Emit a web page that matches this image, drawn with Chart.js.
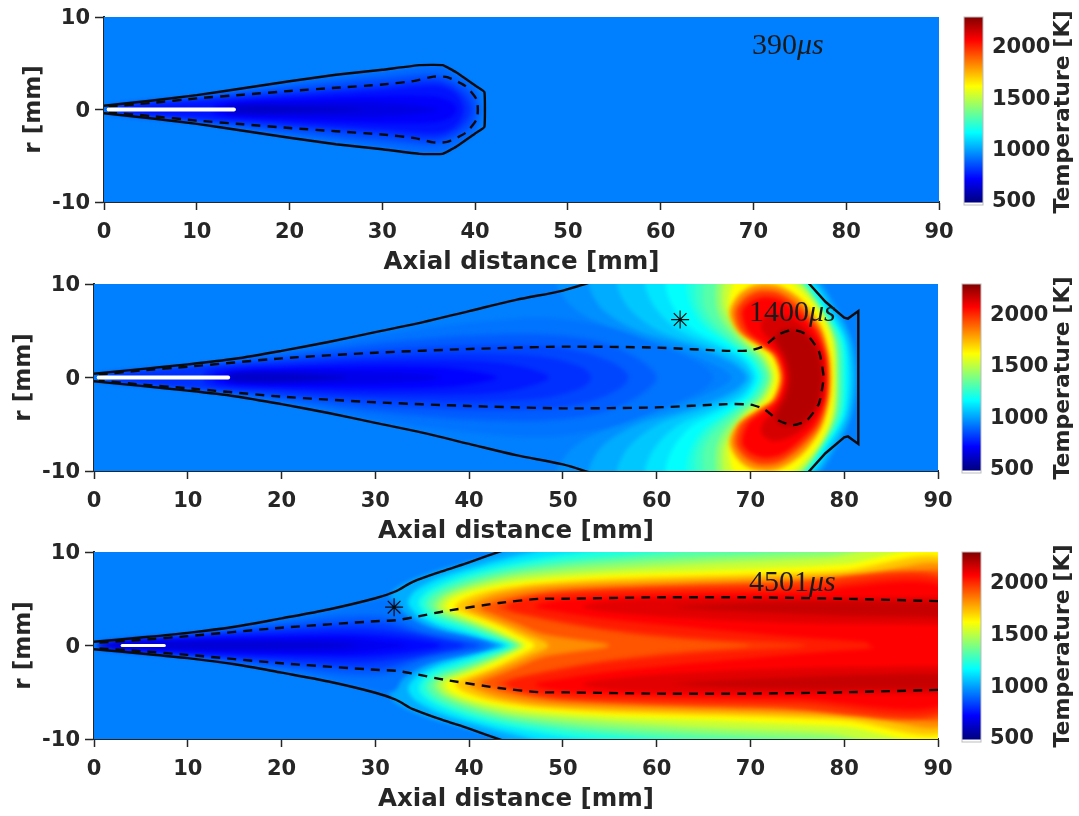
<!DOCTYPE html>
<html>
<head>
<meta charset="utf-8">
<style>
  html, body { margin: 0; background: #fff; }
  #page { position: relative; width: 1079px; height: 816px; overflow: hidden; }
  canvas { position: absolute; filter: blur(0.4px); }
  .stamp { position: absolute; font: 30px "Liberation Serif", serif; color: #1a1a1a; line-height: 1; }
</style>
</head>
<body>
<div id="page"></div>
<script src="https://cdn.jsdelivr.net/npm/chart.js@4"></script>
<script>
// Axis ticks
const xTicks = [0, 10, 20, 30, 40, 50, 60, 70, 80, 90];
const rTicks = [-10, 0, 10];
const barTicks = [500, 1000, 1500, 2000];
const barRange = [470, 2275];
const ambientT = 921;

// All outlines are upper half [axial mm, r mm], mirrored about r = 0 when drawn

// 390 us
const p1Solid = [[0, 0.4], [5, 0.95], [10, 1.55], [15, 2.3], [20, 3.05], [25, 3.75], [30, 4.3], [34, 4.8], [36.5, 4.8], [38, 4.0], [40, 2.6], [41, 1.9]];
const p1Dash = [[0.5, 0.3], [5, 0.7], [10, 1.2], [15, 1.6], [20, 2], [25, 2.35], [30, 2.7], [33.5, 3.1], [35.5, 3.55], [37, 3.5], [39, 2.5], [40.2, 1]];
const p1Slit = [[0.5, 0], [14, 0]];
const p1ColdT = [880, 830, 780, 730, 690, 650, 600];
const p1Cold = [
  [[0.2, 0.35], [10, 1.45], [20, 2.9], [30, 4.1], [34, 4.6], [36.5, 4.6], [38, 3.8], [40, 2.4], [40.8, 0]],
  [[0.5, 0.3], [10, 1.3], [20, 2.4], [30, 3.4], [35.5, 3.8], [37.5, 3.2], [39.5, 1.9], [40.2, 0]],
  [[1, 0.3], [10, 1.1], [20, 1.9], [30, 2.7], [35.5, 3.2], [37.5, 2.6], [39, 1.4], [39.6, 0]],
  [[2, 0.25], [10, 0.85], [20, 1.5], [30, 2.2], [36, 2.6], [38, 1.7], [38.8, 0]],
  [[12, 0.5], [20, 1.1], [30, 1.5], [35.5, 1.4], [37.5, 0.8], [38, 0]],
  [[13, 0.35], [20, 0.7], [28, 0.8], [33, 0.5], [36, 0]],
  [[13.5, 0.25], [16, 0.45], [20, 0.35], [28, 0]]
];

// 1400 us
const p2SolidLeft = [[53, 10.2], [50, 9.3], [45, 8.3], [40, 7.1], [35, 5.9], [30, 4.85], [25, 3.8], [20, 2.85], [15, 2], [10, 1.4], [5, 0.9], [0, 0.4]];
const p2SolidRight = [[76.2, 10.1], [78, 8.1], [80, 6.4], [80.4, 6.3], [81.5, 7.1]];
const p2Dash = [[0.5, 0.3], [5, 0.75], [10, 1.15], [20, 2.05], [30, 2.65], [40, 3.05], [50, 3.3], [60, 3.2], [67.5, 2.85], [70, 2.9], [71.5, 3.4], [73, 4.6], [74.5, 5.1], [76, 4.6], [77.3, 2.8], [77.8, 0.2]];
const p2Slit = [[0.5, 0], [14.3, 0]];
const p2Star = [[62.5, 6.2]];
const p2ColdT = [900, 860, 820, 780, 740, 700, 660, 600];
const p2Cold = [
  [[0.2, 0.35], [10, 1.25], [20, 2.7], [30, 4.5], [40, 5.8], [48, 6.3], [55, 5.3], [60, 3.5], [64.5, 1.5], [66, 0]],
  [[0.5, 0.3], [10, 1.2], [20, 2.4], [30, 3.7], [40, 4.5], [48, 4.6], [54, 3.8], [58, 2], [60, 0]],
  [[1, 0.3], [10, 1.1], [20, 2], [30, 3], [40, 3.5], [48, 3.4], [53, 2.5], [56, 1.2], [57, 0]],
  [[2, 0.3], [10, 1], [20, 1.7], [30, 2.3], [40, 2.6], [48, 2.2], [52, 1.1], [53, 0]],
  [[12, 0.7], [20, 1.3], [30, 1.8], [40, 1.8], [45, 1.3], [48.5, 0]],
  [[13, 0.5], [20, 1], [30, 1.2], [38, 1], [43, 0]],
  [[14, 0.4], [20, 0.7], [28, 0.7], [35, 0.4], [37, 0]],
  [[14.5, 0.3], [17, 0.5], [22, 0.4], [27, 0]]
];
const p2HotT = [950, 1000, 1050, 1100, 1150, 1200, 1250, 1300, 1400, 1500, 1600, 1800, 1950, 2050, 2120, 2180];
const p2Hot = [
  [[68, 0], [66.5, 1.2], [62, 3], [56, 4.9], [51, 7.5], [49.5, 10.5], [76.8, 10.5], [79.3, 7.5], [80.9, 4], [81.4, 0]],
  [[69.5, 0], [68, 1.5], [64, 3.2], [58, 5], [54, 7.5], [53, 10.5], [76.4, 10.5], [79.1, 7.2], [80.7, 4], [81.2, 0]],
  [[69.9, 0], [68.5, 1.7], [65, 3.3], [60, 5.1], [56.8, 7.7], [56, 10.5], [76.1, 10.5], [78.9, 7], [80.4, 4], [80.9, 0]],
  [[70.3, 0], [69, 2], [66, 3.5], [62, 5.3], [59.5, 8], [59, 10.5], [75.8, 10.5], [78.5, 7], [80.1, 4], [80.6, 0]],
  [[70.6, 0], [69.5, 2], [67, 3.5], [63.5, 5.4], [61.5, 8], [61.2, 10.5], [75.5, 10.5], [78.2, 7], [79.9, 4], [80.3, 0]],
  [[71, 0], [70, 2], [68, 3.5], [65, 5.5], [63.5, 8], [63.5, 10.5], [75.2, 10.5], [78, 7], [79.7, 4], [80, 0]],
  [[71.3, 0], [70.2, 2.1], [68.2, 3.6], [65.5, 5.7], [64.2, 8], [64.5, 10.5], [75, 10.5], [77.8, 7.1], [79.5, 4], [79.8, 0]],
  [[71.6, 0], [70.5, 2.2], [68.5, 3.7], [66, 6], [65, 8], [65.5, 10.5], [74.8, 10.5], [77.6, 7.2], [79.3, 4], [79.6, 0]],
  [[72, 0], [71, 2.2], [69, 3.8], [67, 6], [66.3, 8], [66.8, 10.7], [74.5, 10.7], [77.4, 7.2], [79, 4], [79.3, 0]],
  [[72.3, 0], [71.3, 2.3], [69.5, 3.8], [67.8, 6], [67, 8], [67.6, 10.7], [74.2, 10.7], [77.2, 7.5], [78.8, 4.2], [79.1, 0]],
  [[72.6, 0], [71.7, 2.4], [70, 3.8], [68.3, 5.8], [67.7, 8], [68.5, 10.5], [71, 10.9], [73.8, 10.5], [77, 7.5], [78.6, 4.2], [78.9, 0]],
  [[73.1, 0], [72.3, 2.4], [70.5, 3.6], [68.6, 5], [67.8, 7], [68.8, 8.9], [70.5, 9.9], [73, 9.8], [75.5, 8.2], [77.5, 5.5], [78.4, 2.5], [78.6, 0]],
  [[73.4, 0], [72.6, 2.4], [70.9, 3.6], [69, 5], [68.4, 7], [69.4, 8.5], [71, 9.3], [73, 9.1], [75.2, 7.6], [77.2, 5.3], [78.1, 2.5], [78.3, 0]],
  [[73.6, 0], [72.9, 2.4], [71.3, 3.7], [69.7, 5], [69.1, 7], [70, 8.1], [71.5, 8.6], [73.2, 8.3], [75, 7], [76.9, 5], [77.9, 2.5], [78.1, 0]],
  [[73.9, 0], [73.4, 2.2], [72.3, 3.8], [71.3, 4.9], [71.2, 6], [72.3, 6.8], [74, 6.5], [75.5, 5.6], [76.9, 4], [77.7, 2.2], [77.9, 0]],
  [[74.2, 0], [73.8, 2], [73, 3.5], [72.7, 4.4], [73.5, 5.2], [75.5, 4.8], [77, 3], [77.6, 0]]
];

// 4501 us
const p3Solid = [[43.7, 10.2], [40, 8.9], [37, 7.9], [34, 6.8], [32.2, 5.8], [30, 5.05], [25, 3.85], [20, 2.9], [15, 2], [10, 1.35], [5, 0.85], [0, 0.4]];
const p3Dash = [[90, 4.75], [80, 5], [70, 5.15], [60, 5.15], [50, 5], [47.5, 5], [43.2, 4.55], [37.3, 3.65], [34, 3], [32.2, 2.7], [30, 2.6], [20, 1.9], [10, 1], [5, 0.6], [0.5, 0.3]];
const p3Slit = [[3, 0], [7.5, 0]];
const p3Star = [[32, 4.1]];
const p3ColdT = [900, 860, 810, 760, 710, 670, 620];
const p3Cold = [
  [[0.2, 0.35], [10, 1.25], [20, 2.7], [25, 3.6], [30, 4.7], [32, 4.9], [33, 3.5], [36, 1.7], [40, 0.8], [42.3, 0]],
  [[0.5, 0.3], [10, 1.15], [20, 2.4], [27, 3.2], [31, 3.1], [35, 1.6], [39, 0.7], [41.7, 0]],
  [[1, 0.3], [10, 1.05], [20, 2], [27, 2.5], [31, 2.4], [35, 1.2], [38, 0.6], [41, 0]],
  [[1.5, 0.3], [10, 1], [20, 1.6], [28, 1.9], [33, 1.4], [37, 0.6], [39.5, 0]],
  [[2, 0.25], [10, 0.75], [20, 1.1], [28, 1.2], [33, 0.8], [37, 0]],
  [[3, 0.2], [10, 0.55], [20, 0.8], [27, 0.8], [31, 0.4], [33.5, 0]],
  [[0.5, 0.2], [10, 0.4], [18, 0.4], [25, 0.3], [28, 0]]
];
const p3HotT = [1000, 1100, 1200, 1300, 1400, 1500, 1600, 1700, 1800, 1900, 1950, 2000, 2050];
const p3Hot = [
  [[43, 0], [40, 0.8], [36, 1.8], [33, 3], [31.5, 4.5], [32, 6], [35, 7.5], [39, 8.7], [43, 9.8], [46, 10.7], [91, 10.7]],
  [[43.7, 0], [41, 0.9], [37.5, 1.8], [34.8, 3], [33.5, 4.5], [34.2, 5.8], [37, 7.3], [41, 8.5], [46, 9.8], [50, 10.7], [91, 10.7]],
  [[44.2, 0], [41.5, 1], [38.3, 2], [35.7, 3], [34.6, 4.5], [35.4, 5.7], [38, 7], [42, 8.2], [48, 9.4], [55, 10.4], [60, 11], [91, 11]],
  [[44.7, 0], [42, 1.2], [39, 2.3], [36.5, 3.2], [35.4, 4.3], [36.2, 5.5], [39, 6.8], [43, 7.9], [50, 9], [60, 9.9], [68, 10.6], [91, 11]],
  [[45.2, 0], [42.8, 1.2], [39.8, 2.4], [37.3, 3.3], [36.2, 4.2], [37, 5.3], [39.8, 6.5], [44, 7.6], [52, 8.6], [62, 9.3], [75, 10], [85, 10.6], [91, 11]],
  [[45.6, 0], [43.5, 1.2], [40.6, 2.4], [38, 3.4], [36.8, 4.1], [37.6, 5.2], [40.5, 6.3], [45, 7.3], [54, 8.1], [65, 8.8], [78, 9.4], [91, 10.4]],
  [[46, 0], [44.2, 1.1], [41.4, 2.4], [38.7, 3.5], [37.5, 4.1], [38.2, 5], [41, 6], [46, 6.9], [55, 7.6], [68, 8.1], [80, 8.7], [91, 9.7]],
  [[47, 0], [45, 1.2], [42.5, 2.4], [39.8, 3.4], [38.5, 4], [39.2, 4.8], [42, 5.8], [47, 6.6], [56, 7.2], [70, 7.6], [80, 8], [91, 8.9]],
  [[48.5, 0], [46.2, 1.2], [43.5, 2.4], [41, 3.4], [39.8, 4], [40.5, 4.6], [43, 5.5], [48, 6.3], [58, 6.8], [72, 7.2], [82, 7.6], [91, 8.2]],
  [[55, 0], [48, 1.2], [45, 2.4], [42.5, 3.4], [41.2, 4], [42, 4.5], [45, 5.3], [50, 6], [60, 6.4], [74, 6.8], [84, 7.1], [91, 7.5]],
  [[70, 0], [60, 0.9], [52, 2], [46, 3.2], [43, 4], [43.8, 4.5], [48, 5.4], [58, 6.1], [72, 6.5], [91, 7]],
  [[76, 0], [65, 0.8], [55, 1.8], [48, 3], [44, 4], [45, 4.7], [50, 5.5], [60, 5.9], [75, 6.2], [91, 6.6]],
  [[85, 0], [75, 0.9], [65, 1.8], [55, 2.8], [49, 3.7], [47, 4.2], [50, 4.9], [60, 5.4], [75, 5.7], [91, 6]]
];
// Dark lens sitting under the dashed line, does not reach the axis
const p3LensT = [2100, 2150];
const p3Lens = [
  [[91, 2.2], [75, 2.4], [62, 3], [54, 3.7], [52, 4.2], [56, 4.8], [70, 5.1], [91, 5.2]],
  [[91, 3], [80, 3.2], [70, 3.6], [62, 4.1], [72, 4.6], [91, 4.6]]
];
const plotEdge = [[-2, 12], [92, 12], [92, -12], [-2, -12]];

const INK = "#262626";
const BOLD = '"DejaVu Sans"';
const page = document.getElementById("page");

const clamp = (v) => Math.max(0, Math.min(1, v));

// MATLAB jet
function jet(T) {
  const t = clamp((T - barRange[0]) / (barRange[1] - barRange[0]));
  const r = clamp(Math.min(4 * t - 1.5, -4 * t + 4.5));
  const g = clamp(Math.min(4 * t - 0.5, -4 * t + 3.5));
  const b = clamp(Math.min(4 * t + 0.5, -4 * t + 2.5));
  return `rgb(${Math.round(r * 255)},${Math.round(g * 255)},${Math.round(b * 255)})`;
}

const toXY = (pts) => pts.map(([x, y]) => ({ x, y }));
const flip = (pts) => pts.map(([x, r]) => [x, -r]);

// Upper half followed by the lower half, walked back
function mirror(pts) {
  const back = flip(pts).reverse().filter((p) => p[1] !== 0);
  return pts.concat(back);
}

// Closed ring, seam moved to the far tip and overlapped so the curve stays round there
function ring(pts) {
  const all = mirror(pts);
  const k = pts.length - 1;
  return [all[k - 1]].concat(all.slice(k), all.slice(0, k + 1), [all[(k + 1) % all.length]]);
}

function band(pts, T) {
  return {
    isBand: true,
    data: toXY(pts),
    showLine: true,
    fill: "shape",
    backgroundColor: jet(T),
    borderWidth: 0,
    borderColor: "transparent",
    pointRadius: 0,
    tension: 0.3,
  };
}

function contour(pts, dashed, tension) {
  return {
    data: toXY(pts),
    showLine: true,
    fill: false,
    borderColor: "#0a0a0a",
    borderWidth: 2.4,
    borderDash: dashed ? [9, 7] : [],
    pointRadius: 0,
    tension: tension,
  };
}

function slit(pts, width) {
  return {
    data: toXY(pts),
    showLine: true,
    fill: false,
    borderColor: "#ffffff",
    borderWidth: width,
    borderCapStyle: "round",
    pointRadius: 0,
  };
}

function star(pts) {
  return {
    data: toXY(pts),
    showLine: false,
    pointStyle: "star",
    pointRadius: 9,
    pointBorderColor: "#0a0a0a",
    pointBorderWidth: 1.2,
  };
}

// Blur only the temperature bands so that the levels melt into a gradient
const blurBands = {
  id: "blurBands",
  beforeDatasetsDraw(chart) {
    chart.ctx.filter = "blur(2px)";
  },
  afterDatasetDraw(chart, args) {
    const next = chart.data.datasets[args.index - 1];
    if (!next || !next.isBand) chart.ctx.filter = "none";
  },
  afterDatasetsDraw(chart) {
    chart.ctx.filter = "none";
  },
};

function addCanvas(left, top, width, height) {
  const canvas = document.createElement("canvas");
  canvas.width = width;
  canvas.height = height;
  canvas.style.left = left + "px";
  canvas.style.top = top + "px";
  page.appendChild(canvas);
  return canvas;
}

const PAD_TOP = 17;
const X_AXIS_H = 75;

// Stop the tick labels from nudging the plot area
function noOverhang(s) {
  s.paddingLeft = 0;
  s.paddingRight = 0;
  s.paddingTop = 0;
  s.paddingBottom = 0;
}

function drawPanel(box, datasets) {
  const height = PAD_TOP + (box.bottom - box.top) + X_AXIS_H;
  const canvas = addCanvas(0, box.top - PAD_TOP, 960, height);
  new Chart(canvas, {
    type: "scatter",
    data: { datasets: datasets.slice().reverse() }, // first dataset is drawn last
    plugins: [blurBands],
    options: {
      responsive: false,
      animation: false,
      layout: { padding: { top: PAD_TOP, right: 960 - box.right, left: box.titleLeft, bottom: 0 } },
      elements: { line: { capBezierPoints: false } },
      plugins: { legend: { display: false }, tooltip: { enabled: false } },
      scales: {
        x: {
          type: "linear",
          min: xTicks[0],
          max: xTicks[xTicks.length - 1],
          afterFit: (s) => { s.height = X_AXIS_H; noOverhang(s); },
          afterBuildTicks: (s) => { s.ticks = xTicks.map((value) => ({ value })); },
          grid: { drawOnChartArea: false, tickLength: 8, tickColor: INK, tickWidth: 1.5 },
          border: { color: INK, width: 2 },
          ticks: { color: INK, maxRotation: 0, autoSkip: false, padding: 10, font: { family: BOLD, size: 21, weight: "bold" } },
          title: { display: true, text: "Axial distance [mm]", color: INK, padding: 0, font: { family: BOLD, size: 24.5, weight: "bold" } },
        },
        y: {
          min: rTicks[0],
          max: rTicks[rTicks.length - 1],
          afterFit: (s) => { s.width = box.left - box.titleLeft; noOverhang(s); },
          afterBuildTicks: (s) => { s.ticks = rTicks.map((value) => ({ value })); },
          grid: { drawOnChartArea: false, tickLength: 9, tickColor: INK, tickWidth: 1.5 },
          border: { color: INK, width: 2 },
          ticks: { color: INK, padding: 5, labelOffset: 2, font: { family: BOLD, size: 21, weight: "bold" } },
          title: { display: true, text: "r [mm]", color: INK, padding: 0, font: { family: BOLD, size: 23, weight: "bold" } },
        },
      },
    },
  });
}

// Colorbar: one floating bar filled with the jet ramp, axis title drawn bottom to top
function drawColorbar(box) {
  const canvas = addCanvas(950, box.top - PAD_TOP, 129, PAD_TOP + (box.bottom - box.top) + 24);
  const sideTitle = {
    id: "sideTitle",
    afterDraw(chart) {
      const { ctx, chartArea } = chart;
      ctx.save();
      ctx.strokeStyle = "#bdbdbd";
      ctx.strokeRect(chartArea.left, chartArea.top, chartArea.right - chartArea.left, chartArea.bottom - chartArea.top);
      ctx.translate(113, box.titleY - box.top + PAD_TOP);
      ctx.rotate(-Math.PI / 2);
      ctx.fillStyle = INK;
      ctx.font = `bold 22px ${BOLD}`;
      ctx.textAlign = "center";
      ctx.textBaseline = "middle";
      ctx.fillText("Temperature [K]", 0, 0);
      ctx.restore();
    },
  };
  new Chart(canvas, {
    type: "bar",
    data: {
      labels: ["T"],
      datasets: [{
        data: [barRange],
        barPercentage: 1,
        categoryPercentage: 1,
        backgroundColor: (c) => {
          const y = c.chart.scales.y;
          const y0 = y ? y.getPixelForValue(barRange[0]) : NaN;
          const y1 = y ? y.getPixelForValue(barRange[1]) : NaN;
          if (!Number.isFinite(y0) || !Number.isFinite(y1)) return jet(ambientT);
          const g = c.chart.ctx.createLinearGradient(0, y0, 0, y1);
          [0, 0.125, 0.375, 0.625, 0.875, 1].forEach((t) => {
            g.addColorStop(t, jet(barRange[0] + t * (barRange[1] - barRange[0])));
          });
          return g;
        },
      }],
    },
    plugins: [sideTitle],
    options: {
      responsive: false,
      animation: false,
      layout: { padding: { top: PAD_TOP, left: box.barLeft - 950, right: 0, bottom: 24 } },
      plugins: { legend: { display: false }, tooltip: { enabled: false } },
      scales: {
        x: { display: false },
        y: {
          position: "right",
          min: 442,
          max: 2273,
          afterFit: (s) => { s.width = 129 - (box.barLeft - 950) - 19; noOverhang(s); },
          afterBuildTicks: (s) => { s.ticks = barTicks.map((value) => ({ value })); },
          grid: { drawOnChartArea: false, drawTicks: false },
          border: { display: false },
          ticks: { color: INK, padding: 9, labelOffset: 3, callback: (v) => String(v), font: { family: BOLD, size: 21, weight: "bold" } },
        },
      },
    },
  });
}

function addStamp(left, top, num) {
  const el = document.createElement("div");
  el.className = "stamp";
  el.style.left = left + "px";
  el.style.top = top + "px";
  el.innerHTML = `${num}<i>μs</i>`;
  page.appendChild(el);
}

function tempBands(levels, lines) {
  return lines.map((pts, i) => band(ring(pts), levels[i]));
}

drawPanel({ left: 104, right: 939, top: 17, bottom: 202, titleLeft: 20 }, [
  band(plotEdge, ambientT),
  ...tempBands(p1ColdT, p1Cold),
  contour(mirror(p1Solid), false, 0.1),
  contour(mirror(p1Dash), true, 0.2),
  slit(p1Slit, 4),
]);

drawPanel({ left: 94, right: 938, top: 284, bottom: 471, titleLeft: 10 }, [
  band(plotEdge, ambientT),
  ...tempBands(p2HotT, p2Hot),
  ...tempBands(p2ColdT, p2Cold),
  contour(p2SolidLeft, false, 0.3),
  contour(flip(p2SolidLeft), false, 0.3),
  contour(mirror(p2SolidRight), false, 0),
  contour(mirror(p2Dash), true, 0.2),
  slit(p2Slit, 4),
  star(p2Star),
]);

drawPanel({ left: 94, right: 938, top: 552, bottom: 739, titleLeft: 10 }, [
  band(plotEdge, ambientT),
  ...tempBands(p3HotT, p3Hot),
  ...p3Lens.map((pts, i) => band(pts, p3LensT[i])),
  ...p3Lens.map((pts, i) => band(flip(pts), p3LensT[i])),
  ...tempBands(p3ColdT, p3Cold),
  contour(p3Solid, false, 0.3),
  contour(flip(p3Solid), false, 0.3),
  contour(p3Dash, true, 0.2),
  contour(flip(p3Dash), true, 0.2),
  slit(p3Slit, 3),
  star(p3Star),
]);

drawColorbar({ barLeft: 964, top: 17, bottom: 205, titleY: 112 });
drawColorbar({ barLeft: 962, top: 284, bottom: 473, titleY: 378 });
drawColorbar({ barLeft: 962, top: 552, bottom: 742, titleY: 646 });

addStamp(752, 29, "390");
addStamp(749, 296, "1400");
addStamp(749, 566, "4501");
</script>
</body>
</html>
